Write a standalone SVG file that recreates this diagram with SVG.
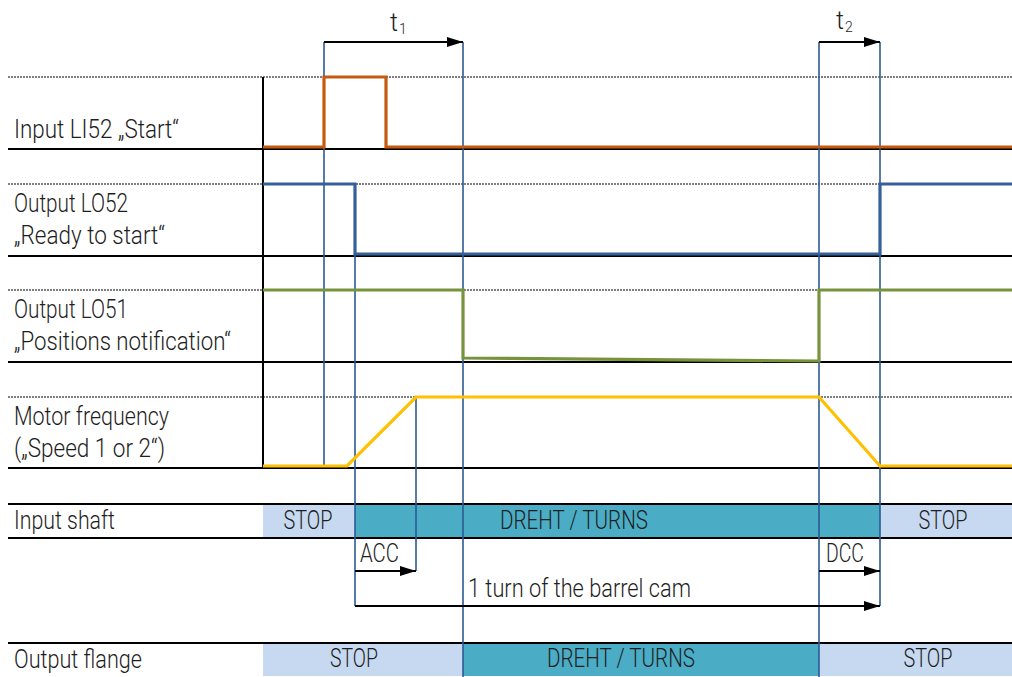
<svg xmlns="http://www.w3.org/2000/svg" width="1012" height="677" viewBox="0 0 1012 677">
<style>
text{font-family:Roboto,"Liberation Sans",sans-serif;font-weight:300;fill:#1e1e1e;font-size:25px}
.ctr{text-anchor:middle}
.dot{stroke:#555;stroke-width:1.5;stroke-dasharray:2 1;fill:none}
.base{stroke:#000;stroke-width:2;fill:none}
.mark{stroke:#2b5a92;stroke-width:1.6;fill:none}
.arr{stroke:#000;stroke-width:2;fill:none;marker-end:url(#ah)}
.sig{fill:none;stroke-width:3.2;stroke-linejoin:miter}
.stop{fill:#c6d9f0}
.turn{fill:#4bacc6}
.sub{font-size:14px}
</style>
<defs>
<marker id="ah" viewBox="0 0 16 10" refX="16" refY="5" markerWidth="16" markerHeight="10" markerUnits="userSpaceOnUse" orient="auto">
<path d="M0,0 L16,5 L0,10 z" fill="#000"/>
</marker>
</defs>

<g id="grid">
<line class="dot" x1="8" y1="77" x2="1012" y2="77"/>
<line class="dot" x1="8" y1="184" x2="1012" y2="184"/>
<line class="dot" x1="8" y1="290" x2="1012" y2="290"/>
<line class="dot" x1="8" y1="397" x2="1012" y2="397"/>
<line class="base" x1="8" y1="149" x2="1012" y2="149"/>
<line class="base" x1="8" y1="256" x2="1012" y2="256"/>
<line class="base" x1="8" y1="362" x2="1012" y2="362"/>
<line class="base" x1="8" y1="468" x2="1012" y2="468"/>
<line class="base" x1="263" y1="77" x2="263" y2="468"/>
</g>

<g id="input-shaft">
<rect class="stop" x="263" y="505" width="92" height="32"/>
<rect class="turn" x="355" y="505" width="525" height="32"/>
<rect class="stop" x="880" y="505" width="132" height="32"/>
<line class="base" x1="8" y1="504" x2="1012" y2="504"/>
<line class="base" x1="8" y1="538" x2="1012" y2="538"/>
<text x="14" y="529" textLength="101" lengthAdjust="spacingAndGlyphs">Input shaft</text>
<text class="ctr" x="308" y="529" textLength="49" lengthAdjust="spacingAndGlyphs">STOP</text>
<text class="ctr" x="574" y="529" textLength="148" lengthAdjust="spacingAndGlyphs">DREHT / TURNS</text>
<text class="ctr" x="943" y="529" textLength="49" lengthAdjust="spacingAndGlyphs">STOP</text>
</g>

<g id="output-flange">
<rect class="stop" x="263" y="644" width="200" height="32"/>
<rect class="turn" x="463" y="644" width="356" height="32"/>
<rect class="stop" x="819" y="644" width="193" height="32"/>
<line class="base" x1="8" y1="643" x2="1012" y2="643"/>
<text x="14" y="668" textLength="128" lengthAdjust="spacingAndGlyphs">Output flange</text>
<text class="ctr" x="354" y="667" textLength="48" lengthAdjust="spacingAndGlyphs">STOP</text>
<text class="ctr" x="621" y="667" textLength="148" lengthAdjust="spacingAndGlyphs">DREHT / TURNS</text>
<text class="ctr" x="928" y="667" textLength="49" lengthAdjust="spacingAndGlyphs">STOP</text>
</g>

<g id="markers">
<line class="mark" x1="324" y1="42" x2="324" y2="466"/>
<line class="mark" x1="355" y1="184" x2="355" y2="606"/>
<line class="mark" x1="416" y1="397" x2="416" y2="571"/>
<line class="mark" x1="463" y1="42" x2="463" y2="677"/>
<line class="mark" x1="819" y1="42" x2="819" y2="677"/>
<line class="mark" x1="880" y1="42" x2="880" y2="606"/>
</g>

<g id="input-li52">
<text x="14" y="138" textLength="165" lengthAdjust="spacingAndGlyphs">Input LI52 „Start“</text>
<polyline class="sig" stroke="#c55a11" points="263,147 324,147 324,77 386,77 386,147 1012,147"/>
</g>

<g id="output-lo52">
<text x="14" y="212" textLength="114" lengthAdjust="spacingAndGlyphs">Output LO52</text>
<text x="14" y="244" textLength="151" lengthAdjust="spacingAndGlyphs">„Ready to start“</text>
<polyline class="sig" stroke="#35609a" points="263,184 355,184 355,254 880,254 880,184 1012,184"/>
</g>

<g id="output-lo51">
<text x="14" y="318" textLength="114" lengthAdjust="spacingAndGlyphs">Output LO51</text>
<text x="14" y="350" textLength="217" lengthAdjust="spacingAndGlyphs">„Positions notification“</text>
<polyline class="sig" stroke="#77933c" points="263,290 463,290 463,358 819,361 819,290 1012,290"/>
</g>

<g id="motor-frequency">
<text x="14" y="425" textLength="155" lengthAdjust="spacingAndGlyphs">Motor frequency</text>
<text x="14" y="457" textLength="151" lengthAdjust="spacingAndGlyphs">(„Speed 1 or 2“)</text>
<polyline class="sig" stroke="#ffc000" points="263,466 347,466 416,397 819,397 880,466 1012,466"/>
</g>

<g id="connectors">
<line class="arr" x1="324" y1="42" x2="463" y2="42"/>
<line class="arr" x1="819" y1="42" x2="880" y2="42"/>
<line class="arr" x1="355" y1="571" x2="416" y2="571"/>
<line class="arr" x1="819" y1="571" x2="880" y2="571"/>
<line class="arr" x1="355" y1="606" x2="880" y2="606"/>
<text x="390" y="31" font-size="29" textLength="8" lengthAdjust="spacingAndGlyphs">t</text>
<text class="sub" x="399" y="34">1</text>
<text x="836" y="29" font-size="29" textLength="8" lengthAdjust="spacingAndGlyphs">t</text>
<text class="sub" x="845" y="32">2</text>
<text x="360" y="562" textLength="39" lengthAdjust="spacingAndGlyphs">ACC</text>
<text x="826" y="562" textLength="38" lengthAdjust="spacingAndGlyphs">DCC</text>
<text x="468" y="597" textLength="223" lengthAdjust="spacingAndGlyphs">1 turn of the barrel cam</text>
</g>
</svg>
